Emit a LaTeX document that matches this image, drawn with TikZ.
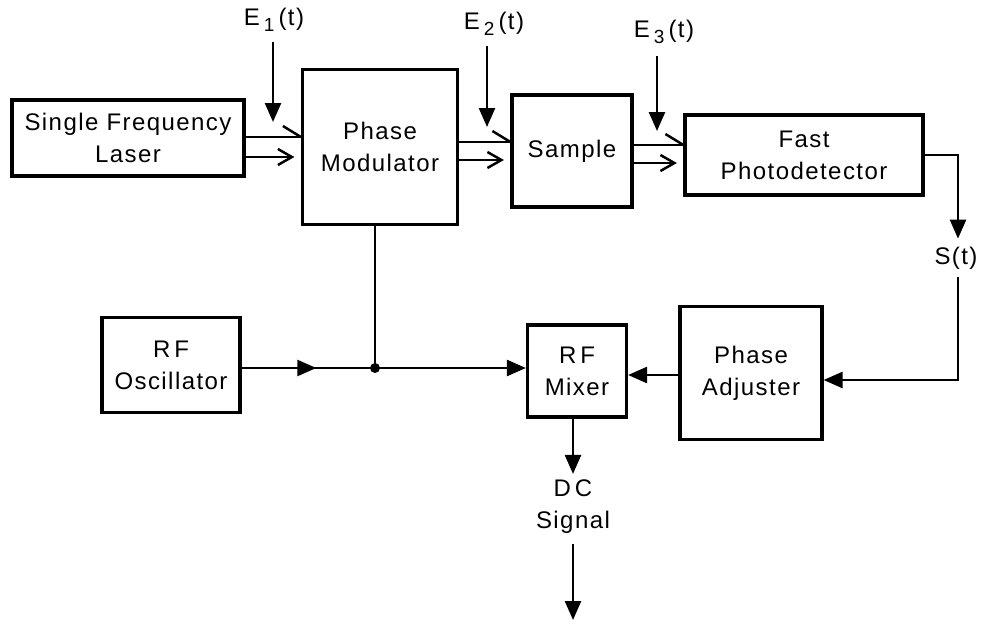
\documentclass[tikz,border=0pt]{standalone}
\usepackage{fontspec}
\setmainfont{Liberation Sans}[LetterSpace=6]
\usetikzlibrary{arrows.meta,decorations.markings}
\newcommand\sbs[1]{\,\raisebox{-0.5ex}{\fontsize{19}{19}\selectfont #1}\,}
\begin{document}
\begin{tikzpicture}[x=1pt,y=-1pt,
  font=\fontsize{24}{32}\selectfont,
  blk/.style={draw, line width=3.2pt, align=center, inner sep=0pt},
  lbl/.style={align=center, inner sep=2pt},
  conn/.style={line width=2.5pt},
  tri/.style={-{Triangle[length=19pt,width=16pt]}},
  midtri/.style={postaction={decorate},decoration={markings,mark=at position #1 with {\arrow{Triangle[length=19pt,width=16pt]}}}}
]
\useasboundingbox (0,0) rectangle (982,624);

% blocks
\node[blk, minimum width=232pt, minimum height=76pt] (laser) at (128,138) {Single Frequency\\Laser};
\node[blk, minimum width=155pt, minimum height=155pt] (mod) at (380,147) {Phase\\Modulator};
\node[blk, minimum width=120pt, minimum height=112pt] (sample) at (572,151) {Sample};
\node[blk, minimum width=238pt, minimum height=80pt] (pd) at (804,155) {Fast\\Photodetector};
\node[blk, minimum width=138pt, minimum height=95pt] (osc) at (171,365) {R\,F\\Oscillator};
\node[blk, minimum width=99pt, minimum height=92pt] (mixer) at (577,371) {R\,F\\Mixer};
\node[blk, minimum width=142pt, minimum height=133pt] (adj) at (751,373) {Phase\\Adjuster};

% labels
\node[lbl] (e1) at (274,20) {E\sbs{1}(t)};
\node[lbl] (e2) at (494,24) {E\sbs{2}(t)};
\node[lbl] (e3) at (664,32) {E\sbs{3}(t)};
\node[lbl] (st) at (956,258) {S(t)};
\node[lbl] (dc) at (573,507) {D\,C\\Signal};
\coordinate (j) at (375,368);
\coordinate (dcend) at (573,620);

% E arrows
\draw[conn,tri] (e1.south -| 273,0) ++(0,8) -- (273,122);
\draw[conn,tri] (e2.south -| 487,0) ++(0,8) -- (487,127);
\draw[conn,tri] (e3.south -| 657,0) ++(0,10) -- (657,131);

% double optical arrows
\newcommand\dblarrow[4]{%
  \draw[conn] (#1.east |- 0,#3) -- (#2.west |- 0,#3);
  \draw[conn] (#2.west |- 0,#3) -- ++(-18,-11);
  \draw[conn] (#1.east |- 0,#4) -- ([xshift=-9pt]#2.west |- 0,#4);
  \draw[conn] ([xshift=-9pt]#2.west |- 0,#4) ++(-14,-8) -- ++(14,8) -- ++(-14,8);
}
\dblarrow{laser}{mod}{137}{157}
\dblarrow{mod}{sample}{142}{160}
\dblarrow{sample}{pd}{145}{163}

% RF connections
\draw[conn] (mod.south -| j) -- (j);
\draw[conn,midtri=0.56] (osc.east |- j) -- (j);
\draw[conn,tri] (j) -- (mixer.west |- j);
\fill (j) circle (5pt);
\draw[conn,tri] (adj.west |- 0,375) -- (mixer.east |- 0,375);

% detector feedback
\draw[conn,tri] (pd.east) -- (pd.east -| 958,0) -- ([yshift=6pt]st.north -| 958,0);
\draw[conn,tri] ([yshift=-6pt]st.south -| 958,0) -- (958,380) -- (adj.east |- 0,380);

% output
\draw[conn,tri] (mixer.south -| dc) -- ([yshift=4pt]dc.north);
\draw[conn,tri] ([yshift=-8pt]dc.south) -- (dcend);
\end{tikzpicture}
\end{document}
